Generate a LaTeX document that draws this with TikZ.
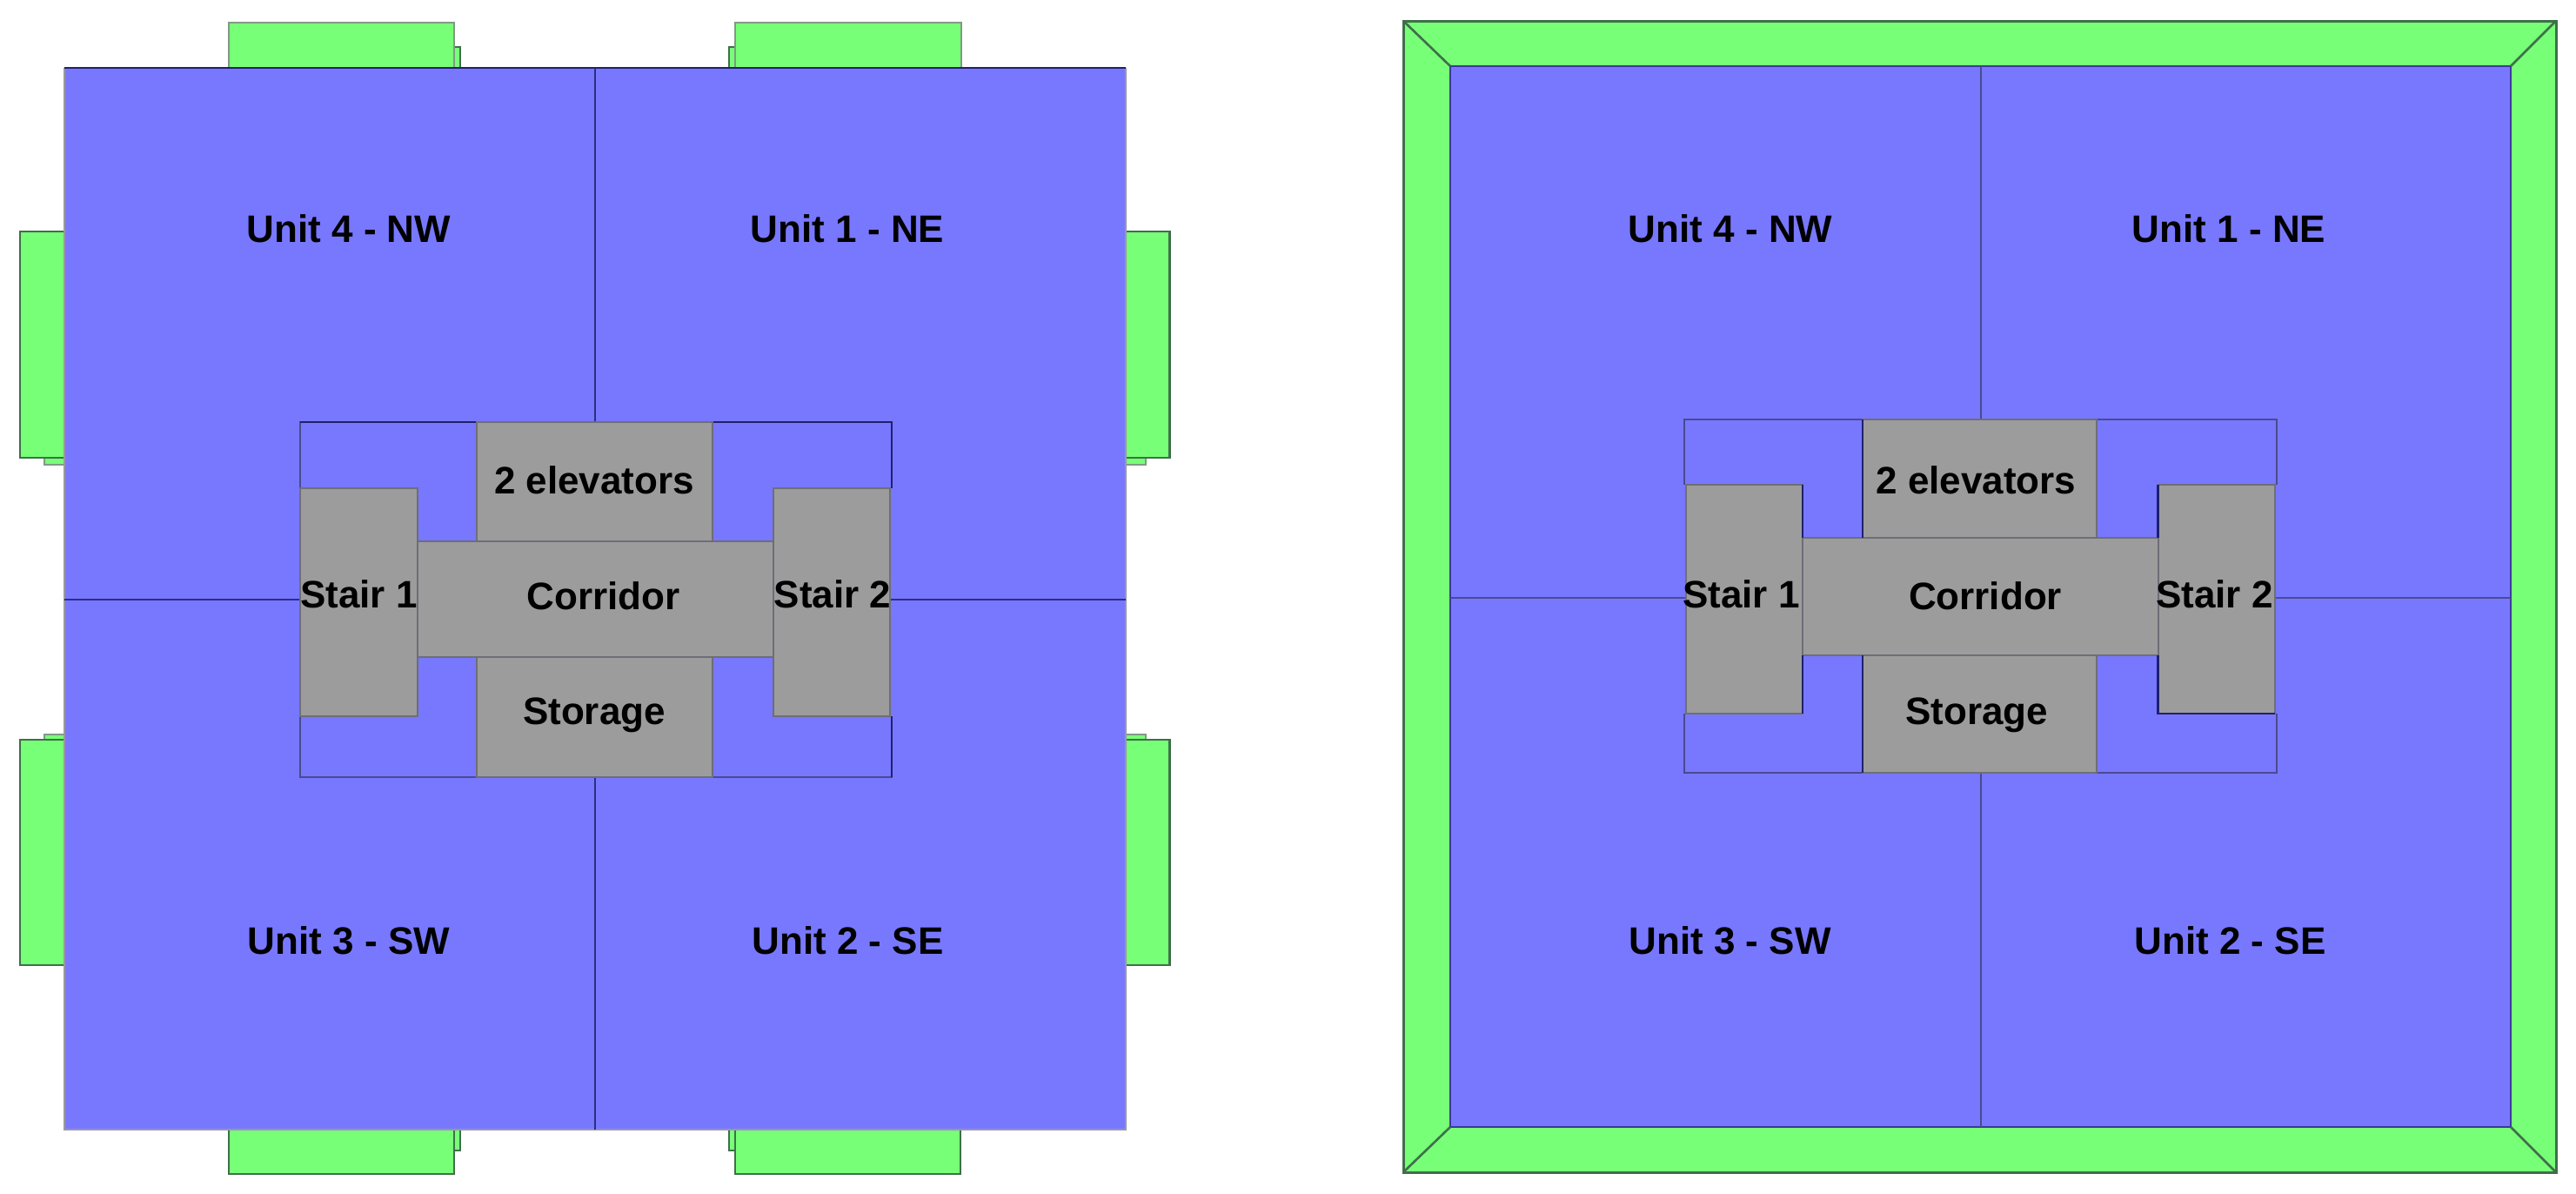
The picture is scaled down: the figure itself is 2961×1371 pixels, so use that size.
\documentclass[tikz,border=0pt]{standalone}
\usepackage{fontspec}
\setmainfont{Liberation Sans}
\definecolor{unitblue}{HTML}{7878FF}
\definecolor{glass}{HTML}{78FF78}
\definecolor{coregray}{HTML}{9C9C9C}
\definecolor{navy}{HTML}{20206E}
\definecolor{softnavy}{HTML}{4A4A90}
\definecolor{greenline}{HTML}{3F6F4A}
\definecolor{grayline}{HTML}{6E6E78}
\definecolor{softgreenline}{HTML}{7F9A85}
\tikzset{
  balcony/.style={fill=glass,draw=greenline,line width=2.2pt},
  softbalcony/.style={fill=glass,draw=softgreenline,line width=2.2pt},
  floorplate/.style={fill=unitblue,draw=none},
  softedge/.style={draw=softnavy,line width=2pt},
  darkedge/.style={draw=navy,line width=2.8pt},
  thinwall/.style={draw=navy!85!unitblue,line width=2pt},
  room/.style={fill=coregray,draw=grayline,line width=2pt},
  roomlabel/.style={anchor=base,inner sep=0pt,font=\fontsize{44}{44}\selectfont\bfseries,text=black},
  mitre/.style={draw=greenline,line width=2.6pt}
}
\begin{document}
\begin{tikzpicture}[x=1pt,y=-1pt]
\useasboundingbox[fill=white] (0,0) rectangle (2961,1371);

%% ---------- LEFT PLAN ----------
% small balconies behind
\draw[balcony] (300,54) rectangle (529,90);
\draw[balcony] (838,54) rectangle (1060,90);
\draw[softbalcony] (51,300) rectangle (90,534);
\draw[softbalcony] (1280,300) rectangle (1317,534);
\draw[softbalcony] (51,844) rectangle (90,1080);
\draw[softbalcony] (1280,844) rectangle (1317,1080);
\draw[balcony] (300,1280) rectangle (529,1322);
\draw[balcony] (838,1280) rectangle (1060,1322);
% large balconies
\draw[softbalcony] (263,26) rectangle (522,90);
\draw[softbalcony] (845,26) rectangle (1105,90);
\draw[balcony] (23,266) rectangle (90,526);
\draw[balcony] (1280,266) rectangle (1344.5,526);
\draw[balcony] (23,850) rectangle (90,1109);
\draw[balcony] (1280,850) rectangle (1344.5,1109);
\draw[balcony] (263,1280) rectangle (522,1349);
\draw[balcony] (845,1280) rectangle (1104,1349);
% floor plate
\fill[floorplate] (74,78) rectangle (1294,1298);
\draw[softedge,draw=grayline!70!white] (74,78) -- (74,1298) -- (1294,1298) -- (1294,78);
\draw[darkedge] (74,78) -- (1294,78);
\coordinate (Ln) at (684,78);
\coordinate (Ls) at (684,1298);
\coordinate (Lw) at (74,689);
\coordinate (Le) at (1294,689);
\coordinate (Lct) at (684,485);
\coordinate (Lcb) at (684,893);
\draw[thinwall] (Ln) -- (Lct);
\draw[thinwall] (Lcb) -- (Ls);
\draw[thinwall] (Lw) -- (345,689);
\draw[thinwall] (1024,689) -- (Le);
% core outline, open where the stairs take the place of a wall
\draw[softedge] (345,561) -- (345,485) -- (548,485);
\draw[softedge] (345,823) -- (345,893) -- (1025,893) -- (1025,823);
\draw[darkedge] (345,485) -- (548,485);
\draw[darkedge] (819,485) -- (1025,485) -- (1025,561);
\draw[darkedge] (1025,823) -- (1025,893);
\draw[thinwall] (479.5,621.5) -- (548,621.5);
\draw[thinwall] (819,621.5) -- (889,621.5);
% rooms
\draw[room] (548,485) rectangle (819,621.5);
\draw[room] (548,755) rectangle (819,893);
\draw[room] (479.5,621.5) rectangle (889,755);
\draw[room] (345,561) rectangle (479.5,823);
\draw[room] (889,561) rectangle (1023,823);
% labels
\node[roomlabel] (l4) at (401,278.5) {Unit 4 - NW};
\node[roomlabel] (l1) at (974,278.5) {Unit 1 - NE};
\node[roomlabel] (l3) at (401,1096) {Unit 3 - SW};
\node[roomlabel] (l2) at (974.5,1096) {Unit 2 - SE};
\node[roomlabel] (lel) at (683,567) {2 elevators};
\node[roomlabel] (lco) at (693.5,700.5) {Corridor};
\node[roomlabel] (ls1) at (412.5,698) {Stair 1};
\node[roomlabel] (ls2) at (957,698) {Stair 2};
\node[roomlabel] (lst) at (683,832.5) {Storage};

%% ---------- RIGHT PLAN ----------
\draw[balcony,line width=3pt] (1613,24) rectangle (2938,1347);
\fill[floorplate] (1667,76) rectangle (2886,1295);
\draw[softedge,draw=navy!70!unitblue,line width=2.4pt] (1667,76) rectangle (2886,1295);
\draw[mitre] (1613,24) -- (1667,76);
\draw[mitre] (2938,24) -- (2886,76);
\draw[mitre] (1613,1347) -- (1667,1295);
\draw[mitre] (2938,1347) -- (2886,1295);
\coordinate (Rn) at (2276.5,76);
\coordinate (Rs) at (2276.5,1295);
\coordinate (Rw) at (1667,687);
\coordinate (Re) at (2886,687);
\draw[softedge] (Rn) -- (2276.5,482);
\draw[softedge] (2276.5,888) -- (Rs);
\draw[softedge] (Rw) -- (1938,687);
\draw[softedge] (2615,687) -- (Re);
% core outline, open where the stairs take the place of a wall
\draw[softedge] (1935.5,557) -- (1935.5,482) -- (2617,482) -- (2617,557);
\draw[softedge] (1935.5,820) -- (1935.5,888) -- (2617,888) -- (2617,820);
\draw[darkedge,draw=black!80!navy] (2072,618) -- (2141,618);
\draw[darkedge,draw=black!80!navy] (2409.5,618) -- (2480.5,618);
\draw[darkedge,draw=black!80!navy] (2072,752) -- (2141,752);
\draw[darkedge,draw=black!80!navy] (2409.5,752) -- (2480.5,752);
% rooms
\draw[room] (2141,482) rectangle (2409.5,618);
\draw[room] (2141,753) rectangle (2409.5,888);
\draw[room] (2072,618) rectangle (2480.5,753);
\draw[room] (1938,557) rectangle (2072,820);
\draw[room] (2480.5,557) rectangle (2615,820);
% dark room sides facing the blue
\draw[darkedge,draw=navy] (2072,557) -- (2072,618);
\draw[darkedge,draw=navy] (2072,753) -- (2072,820);
\draw[darkedge,draw=navy] (2141,482) -- (2141,618);
\draw[darkedge,draw=navy] (2141,753) -- (2141,888);
\draw[darkedge,draw=navy] (2480.5,557) -- (2480.5,618);
\draw[darkedge,draw=navy] (2480.5,753) -- (2480.5,820) -- (2615,820);
% labels
\node[roomlabel] (r4) at (1989,278.5) {Unit 4 - NW};
\node[roomlabel] (r1) at (2562,278.5) {Unit 1 - NE};
\node[roomlabel] (r3) at (1988.5,1096) {Unit 3 - SW};
\node[roomlabel] (r2) at (2563.5,1096) {Unit 2 - SE};
\node[roomlabel] (rel) at (2271.5,567) {2 elevators};
\node[roomlabel] (rco) at (2282,700.5) {Corridor};
\node[roomlabel] (rs1) at (2001.5,698) {Stair 1};
\node[roomlabel] (rs2) at (2545.5,698) {Stair 2};
\node[roomlabel] (rst) at (2272,832.5) {Storage};
\end{tikzpicture}
\end{document}
